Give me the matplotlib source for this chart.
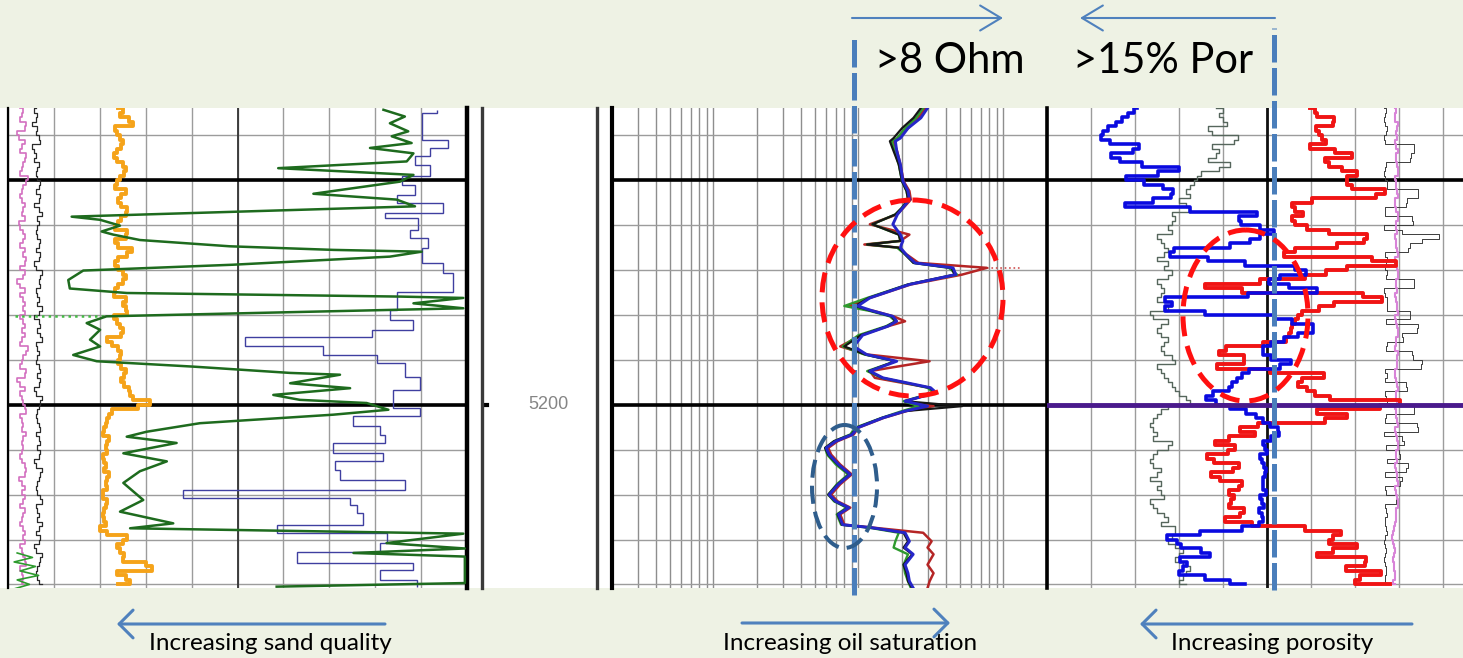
import numpy as np
import matplotlib
matplotlib.use("Agg")
import matplotlib.pyplot as plt
from matplotlib.patches import Ellipse, FancyArrowPatch
from matplotlib.ticker import LogLocator, NullLocator, FixedLocator

plt.rcParams['font.family'] = ['Lato', 'DejaVu Sans']

# ======================= DATA =======================
depth_top, depth_bottom = 5133.9, 5240.8
grid_depth = np.arange(5134, 5241)          # 1-ft samples, 5134..5240
depth_label = 5200

# ---- Track 1 (gamma-ray style track, 0-150) ----
gr_orange = [36, 39, 34, 45, 37, 33, 38, 35, 40, 34,
             37, 32, 39, 36, 41, 35, 38, 33, 37, 40,
             34, 38, 36, 42, 35, 39, 33, 37, 41, 36,
             34, 38, 43, 35, 37, 33, 39, 36, 41, 34,
             38, 32, 37, 40, 35, 42, 36, 33, 38, 35,
             40, 34, 31, 37, 35, 39, 34, 38, 36, 41,
             35, 39, 37, 42, 38, 44, 49, 36, 32, 34,
             31, 33, 30, 32, 34, 31, 33, 32, 30, 33,
             31, 32, 34, 31, 33, 32, 30, 32, 33, 31,
             32, 30, 33, 31, 29, 36, 42, 33, 38, 35,
             41, 34, 56, 38, 33, 44, 36]
cal_pink = [4, 6, 3, 5, 7, 4, 2, 5, 6, 3, 5, 7, 4, 6, 3, 5, 8, 4, 6, 3,
            5, 4, 7, 3, 6, 5, 2, 6, 4, 7, 3, 5, 6, 4, 8, 3, 5, 6, 4, 2,
            6, 5, 3, 7, 4, 6, 5, 3, 7, 4, 5, 6, 3, 5, 8, 4, 6, 3, 5, 7,
            4, 2, 6, 5, 3, 6, 4, 7, 5, 3, 6, 4, 5, 7, 3, 6, 4, 5, 3, 6,
            5, 7, 4, 3, 6, 5, 4, 7, 3, 5, 6, 4, 5, 3, 7, 4, 6, 5, 3, 6,
            4, 7, 5, 3, 6, 4, 5]
sp_black = [9, 8, 11, 7, 9, 10, 8, 12, 9, 7, 10, 8, 9, 11, 8, 10, 9, 12, 8, 10,
            11, 9, 8, 12, 10, 9, 11, 8, 10, 9, 12, 8, 10, 11, 9, 8, 10, 12, 9, 11,
            10, 8, 11, 9, 10, 12, 8, 9, 11, 10, 9, 12, 10, 8, 11, 9, 10, 8, 12, 9,
            10, 11, 9, 8, 10, 12, 9, 11, 8, 10, 9, 11, 10, 8, 12, 9, 10, 11, 9, 8,
            10, 12, 9, 11, 8, 10, 9, 12, 10, 8, 11, 9, 10, 12, 8, 10, 11, 9, 8, 10,
            12, 9, 11, 8, 10, 9, 11]
sp_green_depth = [5134.3, 5135.8, 5137.3, 5139.1, 5140.2, 5141.7, 5142.8, 5144.0, 5145.8, 5147.3,
                  5148.8, 5150.3, 5153.0, 5154.3, 5155.8, 5158.1, 5158.8, 5160.1, 5161.4, 5162.1,
                  5163.3, 5164.7, 5165.5, 5165.9, 5167.0, 5168.8, 5170.1, 5172.2, 5174.1, 5175.1,
                  5175.9, 5176.2, 5177.4, 5178.5, 5180.3, 5181.8, 5183.3, 5185.5, 5187.0, 5188.9,
                  5190.3, 5191.5, 5192.9, 5193.3, 5195.2, 5196.3, 5197.8, 5198.9, 5199.6, 5201.1,
                  5202.2, 5204.1, 5206.0, 5207.1, 5208.5, 5210.8, 5212.6, 5214.8, 5217.4, 5221.2,
                  5223.8, 5226.4, 5227.5, 5228.7, 5230.8, 5232.0, 5233.0, 5233.8, 5239.7, 5240.5]
sp_green = [122.7, 129.7, 124.8, 130.8, 125.4, 131.9, 118.3, 132.5, 130.3, 88.3,
            132.5, 128.1, 99.8, 127.0, 133.0, 20.8, 30.1, 36.6, 30.6, 34.4,
            43.1, 72.5, 106.3, 135.2, 124.8, 73.6, 24.6, 19.7, 20.2, 38.8,
            128.1, 148.8, 132.5, 148.8, 32.2, 25.7, 30.1, 26.8, 30.1, 21.3,
            29.0, 60.6, 92.2, 108.5, 92.2, 111.8, 86.7, 95.4, 117.2, 124.3,
            106.3, 62.7, 45.3, 38.8, 55.1, 37.7, 51.9, 43.1, 37.7, 44.2,
            36.6, 54.0, 39.9, 148.8, 123.7, 149.3, 112.9, 149.3, 149.3, 87.8]
lith_step_edges = [5134.3, 5135.0, 5141.0, 5142.8, 5144.7, 5146.5, 5149.1, 5151.0, 5153.2, 5155.1,
                   5157.3, 5158.4, 5161.0, 5162.9, 5165.1, 5168.4, 5170.7, 5174.8, 5178.8, 5181.1,
                   5183.3, 5184.8, 5187.0, 5188.9, 5190.7, 5193.7, 5196.7, 5200.7, 5202.6, 5204.8,
                   5206.7, 5208.5, 5210.8, 5212.6, 5214.5, 5216.7, 5218.9, 5220.8, 5222.3, 5224.1,
                   5226.7, 5228.6, 5230.8, 5232.7, 5235.3, 5236.7, 5239.0, 5240.5]
lith_step_values = [140.1, 135.2, 143.9, 137.9, 133.0, 137.9, 128.6, 133.0, 127.0, 142.3,
                    123.2, 134.1, 131.4, 137.4, 135.2, 142.3, 145.5, 127.0, 124.8, 132.5,
                    118.8, 77.4, 103.0, 120.5, 129.7, 134.6, 125.9, 134.6, 112.9, 121.6,
                    123.2, 106.3, 122.7, 106.9, 108.5, 129.7, 57.3, 111.8, 113.9, 116.1,
                    87.8, 123.7, 121.6, 94.3, 132.5, 121.6, 133.5]
green_dots_depth = [5180.2, 5180.2]
green_dots_value = [2.3, 31.7]
green_left_depth = [5233, 5234, 5235, 5236, 5237, 5238, 5239, 5240, 5241]
green_left_value = [3, 8, 2, 9, 4, 10, 3, 7, 2]

# ---- Track 2 (resistivity, ohm-m, log 0.2-200) ----
res_depth = [5133.9, 5136.1, 5138.4, 5140.6, 5141.3, 5143.5, 5146.5, 5150.2, 5152.4, 5154.3,
             5156.1, 5157.6, 5159.8, 5162.1, 5163.5, 5164.3, 5165.0, 5166.5, 5168.4, 5169.5,
             5171.0, 5173.2, 5176.2, 5178.0, 5179.1, 5180.3, 5181.4, 5182.5, 5184.5, 5187.0,
             5188.8, 5190.3, 5192.5, 5194.0, 5196.2, 5197.3, 5199.2, 5200.3, 5201.4, 5202.9,
             5205.1, 5206.6, 5208.1, 5209.6, 5211.1, 5213.3, 5215.5, 5217.7, 5220.0, 5221.5,
             5222.9, 5224.4, 5226.7, 5227.4, 5228.5, 5230.4, 5231.8, 5233.3, 5235.6, 5237.5,
             5239.3, 5240.8]
res_deep = [30, 27, 22, 19.5, 18, 18.4, 19.5, 20.3, 22, 22.5,
            20.3, 18.6, 17.3, 19.5, 20.3, 19.8, 19.5, 21.3, 24.6, 45,
            47, 22.5, 12.0, 9.9, 12.6, 17.3, 18.4, 16, 10.7, 9.3,
            11.4, 18.4, 12, 14.8, 31.5, 34.4, 21, 30, 21, 14.8,
            9.9, 9.1, 7.0, 6.0, 6.3, 7.3, 8.8, 7.3, 6.3, 7.0,
            8.6, 7.3, 7.8, 12.6, 21, 22.5, 21, 23.9, 21, 22,
            22.5, 23.9]
res_med = [28, 25, 21, 18.5, 17, 17.8, 19, 20, 21.5, 22,
           20, 18, 12.5, 19, 19.5, 11.5, 18.5, 21, 24, 42,
           48, 22, 11.5, 8.0, 12, 16.5, 18, 15.5, 10, 7.8,
           11, 18, 11.5, 14.5, 30, 33, 20.5, 26, 20, 14.5,
           9.5, 8.8, 6.8, 5.9, 6.1, 7.0, 8.5, 7.1, 6.2, 6.8,
           8.3, 7.1, 7.6, 12, 19, 18, 17.5, 22, 20.5, 21,
           22, 23]
res_shallow = [29, 26, 22, 19, 17.5, 18.5, 19.5, 20.5, 22.5, 23,
               20.5, 18.5, 12, 22.5, 19.5, 11, 19, 21.5, 26, 77,
               52, 23, 12, 8.5, 12.8, 17.5, 21, 16, 10.5, 7.5,
               11.5, 31, 12, 13, 31, 34, 21, 33, 21.5, 15,
               10, 9.3, 7.2, 6.2, 6.5, 7.5, 9, 7.5, 6.5, 7.2,
               8.8, 7.5, 8, 13, 28, 32, 30, 33, 30, 33,
               31, 30]
res_micro = [27, 24, 20, 17.5, 16.5, 17.5, 19, 20, 21.5, 22,
             20, 18, 12.5, 19, 19.5, 11.5, 19, 21, 24, 44,
             46, 22, 11.8, 9.5, 12.3, 17, 18, 15.8, 10.4, 8.0,
             11.2, 18, 11.8, 14.6, 31, 34, 21, 52, 21, 14.6,
             9.7, 9.0, 6.8, 5.9, 6.2, 7.2, 8.7, 7.2, 6.2, 6.9,
             8.5, 7.2, 7.7, 12.4, 20.5, 22, 20.5, 23.5, 20.5, 21.5,
             22, 23.5]
res_flag_depth = [5169.6, 5169.6]
res_flag = [77, 130]
res_cutoff = 9.4

# ---- Track 3 (porosity, v/v, 0.45 -> -0.15), 1-ft samples ----
nphi = [0.327, 0.335, 0.345, 0.350, 0.362, 0.372, 0.376, 0.378, 0.350, 0.300,
        0.365, 0.360, 0.340, 0.300, 0.241, 0.355, 0.330, 0.305, 0.280, 0.276,
        0.285, 0.327, 0.361, 0.150, 0.177, 0.200, 0.170, 0.150, 0.132, 0.187,
        0.160, 0.240, 0.315, 0.250, 0.210, 0.150, 0.074, 0.120, 0.145, 0.150,
        0.090, 0.074, 0.278, 0.300, 0.259, 0.319, 0.150, 0.132, 0.100, 0.074,
        0.100, 0.115, 0.140, 0.150, 0.160, 0.150, 0.140, 0.095, 0.169, 0.180,
        0.187, 0.196, 0.200, 0.205, 0.241, 0.225, 0.215, 0.187, 0.170, 0.160,
        0.150, 0.142, 0.128, 0.140, 0.150, 0.160, 0.145, 0.155, 0.165, 0.150,
        0.158, 0.145, 0.160, 0.150, 0.162, 0.148, 0.155, 0.165, 0.150, 0.158,
        0.165, 0.150, 0.160, 0.163, 0.205, 0.278, 0.296, 0.250, 0.285, 0.196,
        0.260, 0.278, 0.240, 0.290, 0.250, 0.220, 0.180]
dphi = [0.091, 0.078, 0.085, 0.033, 0.087, 0.080, 0.078, 0.072, 0.068, 0.115,
        0.000, 0.068, 0.075, 0.055, 0.040, 0.014, 0.068, 0.014, 0.055, -0.076,
        0.078, 0.100, 0.132, 0.091, 0.110, 0.123, 0.100, 0.091, 0.040, -0.014,
        0.050, 0.060, 0.164, 0.090, -0.076, 0.023, 0.060, 0.078, 0.119, 0.200,
        0.269, 0.100, -0.063, 0.050, 0.068, 0.090, 0.115, 0.100, 0.123, 0.110,
        0.125, 0.115, 0.132, 0.180, 0.232, 0.200, 0.164, 0.200, 0.237, 0.055,
        0.090, 0.115, 0.100, 0.090, 0.078, 0.050, -0.113, 0.105, 0.060, 0.023,
        0.120, 0.205, 0.170, 0.164, 0.241, 0.200, 0.187, 0.220, 0.245, 0.200,
        0.177, 0.215, 0.237, 0.190, 0.177, 0.200, 0.205, 0.185, 0.214, 0.190,
        0.173, 0.200, 0.214, 0.128, 0.068, 0.030, 0.091, 0.040, 0.014, 0.105,
        0.060, -0.031, 0.064, 0.020, -0.031, 0.078, -0.018]
aux_gray = [0.22, 0.20, 0.23, 0.19, 0.22, 0.24, 0.21, 0.17, 0.22, 0.23,
            0.20, 0.24, 0.22, 0.18, 0.25, 0.23, 0.26, 0.24, 0.27, 0.25,
            0.26, 0.28, 0.24, 0.27, 0.29, 0.26, 0.30, 0.27, 0.29, 0.31,
            0.28, 0.30, 0.27, 0.31, 0.29, 0.28, 0.30, 0.26, 0.31, 0.29,
            0.30, 0.28, 0.31, 0.29, 0.27, 0.30, 0.32, 0.29, 0.28, 0.31,
            0.29, 0.30, 0.27, 0.31, 0.28, 0.30, 0.26, 0.29, 0.31, 0.28,
            0.30, 0.27, 0.29, 0.26, 0.28, 0.24, 0.27, 0.30, 0.29, 0.31,
            0.30, 0.32, 0.29, 0.31, 0.30, 0.26, 0.31, 0.29, 0.32, 0.30,
            0.31, 0.28, 0.32, 0.30, 0.29, 0.31, 0.28, 0.30, 0.32, 0.29,
            0.31, 0.27, 0.30, 0.29, 0.26, 0.29, 0.27, 0.30, 0.25, 0.28,
            0.26, 0.29, 0.24, 0.27, 0.25, 0.28, 0.26]
pef_magenta = [-0.025, -0.028, -0.022, -0.027, -0.031, -0.024, -0.029, -0.026, -0.023, -0.030,
               -0.027, -0.024, -0.029, -0.025, -0.032, -0.026, -0.023, -0.028, -0.025, -0.030,
               -0.026, -0.022, -0.028, -0.025, -0.031, -0.027, -0.024, -0.029, -0.026, -0.023,
               -0.028, -0.025, -0.030, -0.026, -0.023, -0.029, -0.025, -0.031, -0.027, -0.024,
               -0.028, -0.026, -0.022, -0.029, -0.025, -0.030, -0.027, -0.023, -0.028, -0.026,
               -0.031, -0.025, -0.028, -0.023, -0.027, -0.030, -0.025, -0.029, -0.026, -0.022,
               -0.028, -0.025, -0.030, -0.027, -0.024, -0.029, -0.026, -0.023, -0.028, -0.025,
               -0.030, -0.026, -0.023, -0.029, -0.025, -0.031, -0.027, -0.024, -0.028, -0.026,
               -0.022, -0.029, -0.025, -0.030, -0.027, -0.023, -0.028, -0.026, -0.031, -0.025,
               -0.028, -0.024, -0.029, -0.021, -0.026, -0.018, -0.024, -0.020, -0.027, -0.022,
               -0.025, -0.019, -0.026, -0.021, -0.028, -0.020, -0.024]
aux_dark = [-0.010, -0.015, -0.008, -0.012, -0.010, -0.018, -0.006, -0.012, -0.010, -0.090,
            -0.012, -0.080, -0.010, -0.015, -0.008, -0.012, -0.010, -0.016, -0.011, -0.100,
            -0.012, -0.070, -0.009, -0.013, -0.010, -0.085, -0.012, -0.008, -0.060, -0.110,
            -0.014, -0.075, -0.010, -0.012, -0.016, -0.009, -0.012, -0.014, -0.010, -0.090,
            -0.012, -0.008, -0.014, -0.012, -0.016, -0.010, -0.080, -0.011, -0.013, -0.100,
            -0.009, -0.060, -0.012, -0.014, -0.010, -0.085, -0.012, -0.110, -0.010, -0.013,
            -0.015, -0.008, -0.070, -0.012, -0.010, -0.014, -0.012, -0.090, -0.011, -0.013,
            -0.010, -0.100, -0.012, -0.008, -0.060, -0.013, -0.011, -0.050, -0.012, -0.014,
            -0.070, -0.010, -0.012, -0.055, -0.009, -0.013, -0.011, -0.040, -0.012, -0.010,
            -0.014, -0.012, -0.009, -0.013, -0.011, -0.015, -0.006, -0.012, -0.010, -0.014,
            -0.008, -0.012, -0.010, -0.015, -0.009, -0.012, -0.010]
por_cutoff = 0.14

# ---- annotation texts ----
top_labels = ['>8 Ohm', '>15% Por']
bottom_labels = ['Increasing sand quality', 'Increasing oil saturation', 'Increasing porosity']

# ======================= FIGURE =======================
W, H = 1463, 658
fig = plt.figure(figsize=(W / 100, H / 100), dpi=100)
fig.patch.set_facecolor('#EEF2E4')

PLOT_TOP, PLOT_BOT = 108, 588


def box(x0, x1):
    return [x0 / W, 1 - PLOT_BOT / H, (x1 - x0) / W, (PLOT_BOT - PLOT_TOP) / H]


bg = fig.add_axes(box(0, W))
bg.set_facecolor('white')
bg.set_xticks([])
bg.set_yticks([])
for s in bg.spines.values():
    s.set_visible(False)

GRID = '#9c9c9c'
depth_ticks = np.arange(5140, 5241, 10)
ARROW_BLUE = '#4F81BD'
DASH_BLUE = '#4A7EBB'


def track(x0, x1):
    ax = fig.add_axes(box(x0, x1))
    ax.set_facecolor('none')
    for s in ('top', 'bottom'):
        ax.spines[s].set_visible(False)
    return ax


def finish(ax):
    ax.set_ylim(depth_bottom, depth_top)
    ax.yaxis.set_major_locator(FixedLocator(depth_ticks))
    ax.yaxis.set_minor_locator(NullLocator())
    ax.tick_params(which='both', length=0, labelbottom=False, labelleft=False)


# ---- Track 1 ----
ax1 = track(8, 467)
ax1.set_xlim(0, 150)
ax1.xaxis.set_major_locator(FixedLocator(np.arange(0, 151, 15)))
finish(ax1)
ax1.grid(True, color=GRID, lw=1.0)
ax1.set_axisbelow(True)
ax1.axvline(75, color='#333333', lw=1.3, zorder=1)
for d in (5150, 5200):
    ax1.axhline(d, color='black', lw=2.6, zorder=1.5)
ax1.spines['left'].set_linewidth(1.6)
ax1.spines['right'].set_linewidth(3.2)

ax1.plot(cal_pink, grid_depth, color='#D370C0', lw=1.2, drawstyle='steps-mid', zorder=2)
ax1.plot(sp_black, grid_depth, color='#2a2a2a', lw=0.9, drawstyle='steps-mid', zorder=2)
ax1.plot(green_dots_value, green_dots_depth, color='#44BB44', lw=1.8, ls=':', zorder=2)
ax1.plot(green_left_value, green_left_depth, color='#2E9A2E', lw=1.2, zorder=2)
ax1.plot(gr_orange, grid_depth, color='#F5A31A', lw=2.8, drawstyle='steps-mid', zorder=3)
ax1.stairs(lith_step_values, lith_step_edges, orientation='horizontal', baseline=None,
           color='#3F3FA0', lw=1.0, zorder=3)
ax1.plot(sp_green, sp_green_depth, color='#1E6B1E', lw=1.8, zorder=4)

# ---- Depth track ----
axd = track(482, 597)
axd.set_xlim(0, 1)
finish(axd)
for s in ('left', 'right'):
    axd.spines[s].set_linewidth(2.4)
    axd.spines[s].set_color('#3a3a3a')
axd.axhline(depth_label, xmin=0, xmax=0.04, color='black', lw=3)
axd.text(0.574, depth_label, str(depth_label), ha='center', va='center',
         color='#858585', fontsize=13, family=['Liberation Sans', 'DejaVu Sans'])

# ---- Track 2 ----
ax2 = track(612, 1047)
ax2.set_xscale('log')
ax2.set_xlim(0.2, 200)
ax2.xaxis.set_major_locator(FixedLocator([1, 10, 100]))
ax2.xaxis.set_minor_locator(LogLocator(base=10, subs=np.arange(2, 10), numticks=20))
finish(ax2)
ax2.grid(True, which='both', axis='x', color='#8e8e8e', lw=1.0)
ax2.grid(True, which='major', axis='y', color=GRID, lw=1.0)
ax2.set_axisbelow(True)
for d in (5150, 5200):
    ax2.axhline(d, color='black', lw=2.6, zorder=1.5)
ax2.spines['left'].set_linewidth(3.0)
ax2.spines['right'].set_visible(False)

ax2.plot(res_flag, res_flag_depth, color='#D05050', lw=1.2, ls=':', zorder=2)
ax2.plot(res_shallow, res_depth, color='#B52525', lw=1.8, zorder=2)
ax2.plot(res_med, res_depth, color='#2E9A2E', lw=1.7, zorder=2)
ax2.plot(res_micro, res_depth, color='#151515', lw=1.6, zorder=3)
ax2.plot(res_deep, res_depth, color='#2626C8', lw=2.1, zorder=4)
ax2.axvline(res_cutoff, ymin=-0.0146, ymax=1.152, clip_on=False, color=DASH_BLUE,
            lw=3.6, dashes=(5.5, 1.1), zorder=10)

# ---- Track 3 ----
ax3 = track(1047, 1487)
ax3.set_xlim(0.45, -0.15)
ax3.xaxis.set_major_locator(FixedLocator([0.45 - 0.06 * i for i in range(11)]))
finish(ax3)
ax3.grid(True, color=GRID, lw=1.0)
ax3.set_axisbelow(True)
ax3.axvline(0.15, color='#111111', lw=2.0, zorder=1)
ax3.axhline(5150, color='black', lw=2.6, zorder=1.5)
ax3.spines['left'].set_linewidth(2.6)
ax3.spines['right'].set_visible(False)

ax3.plot(aux_gray, grid_depth, color='#56665C', lw=1.0, drawstyle='steps-mid', zorder=2)
ax3.plot(aux_dark, grid_depth, color='#3c3c3c', lw=0.7, drawstyle='steps-mid', zorder=2)
ax3.plot(pef_magenta, grid_depth, color='#D884D8', lw=1.5, drawstyle='steps-mid', zorder=2)
ax3.plot(dphi, grid_depth, color='#F01414', lw=2.8, drawstyle='steps-mid', zorder=3)
ax3.plot(nphi, grid_depth, color='#0A0AE0', lw=2.6, drawstyle='steps-mid', zorder=4)
ax3.axhline(5200, color='#4A1A8C', lw=3.5, zorder=5)
ax3.axvline(por_cutoff, ymin=-0.004, ymax=1.1666, clip_on=False, color=DASH_BLUE,
            lw=3.6, dashes=(5.5, 1.1), zorder=10)

# ---- Overlay annotations (figure pixel space) ----
ov = fig.add_axes([0, 0, 1, 1])
ov.set_xlim(0, W)
ov.set_ylim(H, 0)
ov.axis('off')


def arrow(x0, x1, y, lw, hl, hw):
    ov.add_patch(FancyArrowPatch((x0, y), (x1, y),
                                 arrowstyle=f'->,head_length={hl},head_width={hw}',
                                 mutation_scale=20, color=ARROW_BLUE, lw=lw,
                                 shrinkA=0, shrinkB=0))


arrow(852, 1003, 18, 1.5, 0.75, 0.45)
arrow(1275, 1080, 18, 1.5, 0.75, 0.45)
ov.text(950, 61, top_labels[0], fontsize=30, ha='center', va='center', color='black')
ov.text(1163, 61, top_labels[1], fontsize=30, ha='center', va='center', color='black')

arrow(385, 117, 624, 2.2, 0.5, 0.5)
arrow(742, 950, 623, 2.2, 0.5, 0.5)
arrow(1412, 1140, 624, 2.2, 0.5, 0.5)
ov.text(270, 644, bottom_labels[0], fontsize=17.5, ha='center', va='center', color='black')
ov.text(850, 644, bottom_labels[1], fontsize=17.5, ha='center', va='center', color='black')
ov.text(1272, 644, bottom_labels[2], fontsize=17.5, ha='center', va='center', color='black')

ov.add_patch(Ellipse((912.5, 298), 181, 196, fill=False, ec='#FF1010', lw=3.6,
                     ls=(0, (4, 2))))
ov.add_patch(Ellipse((1245.5, 315.5), 125, 171, fill=False, ec='#FF1010', lw=3.6,
                     ls=(0, (4, 2))))
ov.add_patch(Ellipse((844.5, 486.5), 65, 123, fill=False, ec='#2F5D8C', lw=2.9,
                     ls=(0, (4.5, 2))))

fig.savefig('out.png', dpi=100, facecolor=fig.get_facecolor())
